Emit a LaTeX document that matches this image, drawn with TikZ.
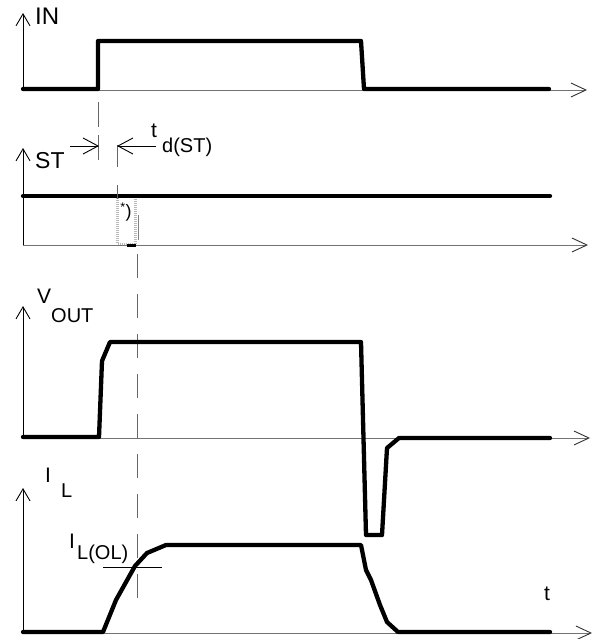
\documentclass[tikz,border=0pt]{standalone}
\usepackage{fontspec}
\setmainfont{Liberation Sans}
\usetikzlibrary{arrows.meta}
\begin{document}
\begin{tikzpicture}[x=1pt,y=-1pt,
  sig/.style={line width=4.3pt, line cap=round, line join=round},
  yaxis/.style={line width=0.9pt, -{Straight Barb[length=12pt,width=14pt,line width=0.9pt]}},
  xaxis/.style={line width=0.9pt, draw=black!55, -{Straight Barb[length=15pt,width=14pt,line width=0.9pt,color=black!80]}},
  dimarrow/.style={line width=0.9pt, -{Straight Barb[length=15pt,width=16pt,line width=0.9pt]}},
  marker/.style={line width=0.9pt, draw=black!60},
  thinline/.style={line width=0.9pt},
  lbl/.style={inner sep=0pt, anchor=base west, font=\fontsize{23}{26}\selectfont},
  sublbl/.style={inner sep=0pt, anchor=base west, font=\fontsize{20}{24}\selectfont},
]
\useasboundingbox (0,0) rectangle (596,639);

% ---------- IN ----------
\coordinate (inO) at (23,90);
\draw[yaxis] (inO) -- (23,13);
\draw[xaxis] (inO) -- (587,90);
\draw[sig] (23,89) -- (98,89) -- (98,41) -- (361,41) -- (364,89) -- (549,89);
\node[lbl, font=\fontsize{24}{26}\selectfont] (lin) at (35,25) {IN};

% ---------- ST ----------
\coordinate (stO) at (23,245);
\draw[yaxis] (stO) -- (23,148);
\draw[xaxis] (stO) -- (588,245);
\draw[draw=gray!55, line width=2.8pt, dash pattern=on 1pt off 1pt] (117.5,198) -- (117.5,244) -- (135.5,244) -- (135.5,198);
\draw[sig] (23,196) -- (550,196);
\draw[line width=3pt] (127,245) -- (136,245);
\draw[draw=gray, line width=0.8pt] (138,215) -- (138,240);
\node[inner sep=0pt, font=\fontsize{18}{20}\selectfont] (star) at (126,212) {\textsuperscript{*})};
\node[lbl] (lst) at (35,168) {ST};

% delay markers
\draw[marker, dash pattern=on 25pt off 8pt] (98,102) -- (98,167);
\draw[marker, dash pattern=on 22pt off 18pt] (117,145) -- (117,199);
\coordinate (dL) at (99,146);
\coordinate (dR) at (117,146);
\coordinate (dLs) at (70,146);
\coordinate (dRs) at (156,146);
\draw[dimarrow] (dLs) -- (dL);
\draw[dimarrow] (dRs) -- (dR);
\node[sublbl, font=\fontsize{21}{24}\selectfont] (lt) at (151,138) {t};
\node[sublbl] (ltd) at (162,153) {d(ST)};

% long dashed
\draw[marker, dash pattern=on 24pt off 16pt] (137.5,254) -- (137.5,600);

% ---------- VOUT ----------
\coordinate (vO) at (23,438);
\draw[yaxis] (vO) -- (23,306);
\draw[xaxis] (vO) -- (590,438);
\draw[sig] (23,437) -- (99,437) -- (102,361) -- (110,342) -- (361,342) -- (366,535) -- (382,535) -- (387,448) -- (399,438) -- (550,438);
\node[lbl, font=\fontsize{21}{24}\selectfont] (lv) at (37,303) {V};
\node[sublbl] (lvout) at (51,322) {OUT};

% ---------- IL ----------
\coordinate (iO) at (23,633);
\draw[yaxis] (iO) -- (23,488);
\draw[xaxis] (iO) -- (592,633);
\draw[sig] (23,632) -- (103,632) -- (116,600) -- (135,566) -- (147,553) -- (166,545) -- (361,545) -- (366,570) -- (371,580) -- (380,605) -- (387,622) -- (398,632) -- (550,632);
\draw[thinline] (103,567) -- (162,567);
\node[lbl, font=\fontsize{21}{24}\selectfont] (li) at (45,482) {I};
\node[sublbl] (lil) at (61,497) {L};
\node[lbl, font=\fontsize{21}{24}\selectfont] (lio) at (69,548) {I};
\node[sublbl] (lilol) at (77,559) {L(OL)};
\node[lbl, font=\fontsize{21}{24}\selectfont] (ltime) at (544,600) {t};
\end{tikzpicture}
\end{document}
